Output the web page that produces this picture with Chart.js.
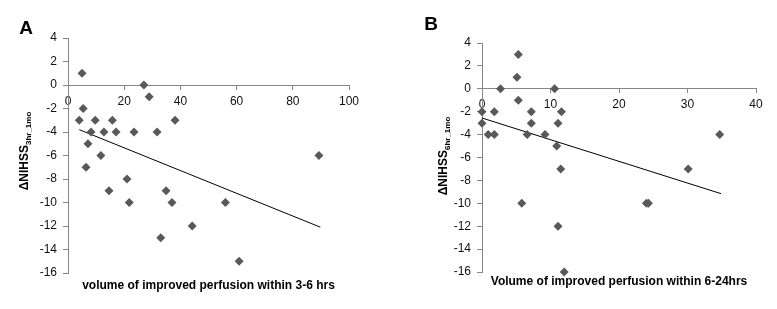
<!DOCTYPE html>
<html>
<head>
<meta charset="utf-8">
<script src="https://cdn.jsdelivr.net/npm/chart.js@4"></script>
<style>
  html, body { margin: 0; padding: 0; background: #fff; }
  #wrap { position: relative; width: 777px; height: 309px; }
  .panel { position: absolute; top: 0; height: 309px; }
  #panelA { left: 0; width: 390px; }
  #panelB { left: 390px; width: 387px; }
</style>
</head>
<body>
<div id="wrap">
  <div class="panel" id="panelA"><canvas id="chartA"></canvas></div>
  <div class="panel" id="panelB"><canvas id="chartB"></canvas></div>
</div>
<script>
// panel A: volume of improved perfusion within 3-6 hrs vs delta NIHSS
const volA = [5.0, 27.0, 28.9, 5.4, 4.0, 9.7, 15.8, 38.1, 8.2, 12.8, 17.1, 23.5, 31.7,
  7.1, 11.7, 89.3, 6.4, 21.0, 14.6, 34.9, 21.8, 37.0, 56.0, 44.2, 33.0, 60.9];
const nihssA = [1, 0, -1, -2, -3, -3, -3, -3, -4, -4, -4, -4, -4,
  -5, -6, -6, -7, -8, -9, -9, -10, -10, -10, -12, -13, -15];
const trendVolA = [4.0, 89.8];
const trendNihssA = [-3.8, -12.1];

// panel B: volume of improved perfusion within 6-24 hrs vs delta NIHSS
const volB = [5.3, 5.1, 2.7, 10.6, 5.3, 0, 1.8, 7.2, 11.6, 0, 7.2, 11.1, 0.9, 1.8, 6.6,
  9.2, 34.7, 10.9, 11.5, 30.1, 5.8, 24.0, 24.3, 11.1, 12.0];
const nihssB = [3, 1, 0, 0, -1, -2, -2, -2, -2, -3, -3, -3, -4, -4, -4,
  -4, -4, -5, -7, -7, -10, -10, -10, -12, -16];
const trendVolB = [0, 34.9];
const trendNihssB = [-2.55, -9.16];

const yTicks = [4, 2, 0, -2, -4, -6, -8, -10, -12, -14, -16];

const axisColor = "#868686";
const markColor = "#595959";
const fontFamily = "'Liberation Sans', Arial, sans-serif";

function pairs(xs, ys) {
  return xs.map((x, i) => ({ x: x, y: ys[i] }));
}

// draws panel letter, x title and the y title with its subscript
const titlesPlugin = {
  id: "titles",
  afterDraw(chart, args, opts) {
    const { ctx, chartArea } = chart;
    ctx.save();
    ctx.fillStyle = "#000";
    ctx.textBaseline = "middle";

    ctx.font = "bold 19px " + fontFamily;
    ctx.textAlign = "center";
    ctx.fillText(opts.letter, opts.letterX, opts.letterY);

    ctx.font = "bold 12px " + fontFamily;
    ctx.fillText(opts.xTitle, (chartArea.left + chartArea.right) / 2, opts.xTitleY);

    // rotated y title
    ctx.translate(opts.yTitleX, opts.yTitleY);
    ctx.rotate(-Math.PI / 2);
    ctx.textBaseline = "alphabetic";
    const main = "\u0394NIHSS";
    ctx.font = "bold 12px " + fontFamily;
    const w1 = ctx.measureText(main).width;
    ctx.font = "bold 8px " + fontFamily;
    const w2 = ctx.measureText(opts.ySub).width;
    const start = -(w1 + w2) / 2;
    ctx.textAlign = "left";
    ctx.font = "bold 12px " + fontFamily;
    ctx.fillText(main, start, 4);
    ctx.font = "bold 8px " + fontFamily;
    ctx.fillText(opts.ySub, start + w1, 7);
    ctx.restore();
  }
};

function makeChart(id, xs, ys, tx, ty, xMax, xStep, pad, titles) {
  return new Chart(document.getElementById(id), {
    type: "scatter",
    data: {
      datasets: [
        {
          label: "patients",
          data: pairs(xs, ys),
          pointStyle: "rectRot",
          pointRadius: 4.5,
          pointBackgroundColor: markColor,
          pointBorderColor: markColor,
          pointBorderWidth: 0,
          clip: false
        },
        {
          label: "trend",
          type: "line",
          data: pairs(tx, ty),
          borderColor: "#000",
          borderWidth: 1,
          pointRadius: 0,
          fill: false,
          clip: false
        }
      ]
    },
    options: {
      responsive: true,
      maintainAspectRatio: false,
      animation: false,
      layout: { padding: pad },
      plugins: {
        legend: { display: false },
        tooltip: { enabled: false },
        titles: titles
      },
      scales: {
        x: {
          type: "linear",
          position: { y: 0 },
          min: 0,
          max: xMax,
          border: { color: axisColor, width: 1 },
          grid: { drawOnChartArea: false, drawTicks: true, tickLength: 4, color: axisColor },
          ticks: { stepSize: xStep, color: "#111", padding: 5, font: { family: fontFamily, size: 12 } }
        },
        y: {
          type: "linear",
          position: "left",
          min: -16,
          max: 4,
          afterBuildTicks(scale) {
            scale.ticks = yTicks.map(v => ({ value: v }));
          },
          afterFit(scale) {
            scale.width = 40;
          },
          border: { color: axisColor, width: 1 },
          grid: { drawOnChartArea: false, drawTicks: true, tickLength: 5, color: axisColor },
          ticks: { color: "#111", padding: 6, font: { family: fontFamily, size: 12 } }
        }
      }
    },
    plugins: [titlesPlugin]
  });
}

makeChart("chartA", volA, nihssA, trendVolA, trendNihssA, 100, 20,
  { left: 28, right: 41, top: 38, bottom: 36 },
  { letter: "A", letterX: 26, letterY: 29, xTitle: "volume of improved perfusion within 3-6 hrs",
    xTitleY: 286, yTitleX: 24, yTitleY: 151, ySub: "3hr_1mo" });

makeChart("chartB", volB, nihssB, trendVolB, trendNihssB, 40, 10,
  { left: 52, right: 21, top: 43, bottom: 37 },
  { letter: "B", letterX: 41, letterY: 25, xTitle: "Volume of improved perfusion within 6-24hrs",
    xTitleY: 282, yTitleX: 53, yTitleY: 156, ySub: "6hr_1mo" });
</script>
</body>
</html>
